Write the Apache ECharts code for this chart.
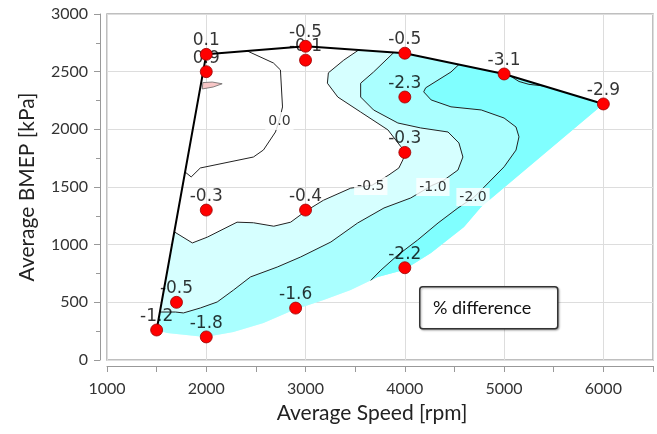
<!DOCTYPE html>
<html>
<head>
<meta charset="utf-8">
<script src="https://cdn.jsdelivr.net/npm/echarts@6/dist/echarts.min.js"></script>
<style>
  html, body { margin: 0; padding: 0; background: #fff; }
  #chart { width: 657px; height: 434px; }
</style>
</head>
<body>
<div id="chart"></div>
<script>
// measured operating points [rpm, kPa] and their % difference
const points = [
  [1500, 260], [1700, 500], [2000, 200], [2000, 1300], [2000, 2500], [2000, 2650],
  [2900, 450], [3000, 1300], [3000, 2600], [3000, 2720], [4000, 800], [4000, 1800],
  [4000, 2280], [4000, 2660], [5000, 2480], [6000, 2220]
];
const pointLabels = [
  '-1.2', '-0.5', '-1.8', '-0.3', '0.9', '0.1',
  '-1.6', '-0.4', '-0.1', '-0.5', '-2.2', '-0.3',
  '-2.3', '-0.5', '-3.1', '-2.9'
];

// full load line + left edge of the map
const boundary = [[1500, 260], [2000, 2650], [3000, 2720], [4000, 2660], [5000, 2480], [6000, 2220]];
// lower edge of the interpolated region
const lowerEdge = [
  [1500, 260], [1606, 234], [1990, 199], [2273, 243], [2576, 321], [2879, 434], [3182, 520],
  [3455, 607], [3727, 720], [3990, 780], [4263, 928], [4596, 1153], [4768, 1327], [6000, 2220]
];

// contour lines
const contour00 = [
  [2414, 2679], [2677, 2575], [2747, 2515], [2768, 2194], [2737, 2081], [2697, 1977],
  [2576, 1821], [2475, 1760], [1940, 1665], [1848, 1587], [1787, 1630]
];
const contour05 = [
  [1680, 1110], [1860, 1015], [2010, 1065], [2310, 1195], [2475, 1190], [2680, 1160],
  [2850, 1195], [3000, 1290], [3180, 1385], [3455, 1490], [3670, 1515], [3840, 1605],
  [3940, 1665], [3980, 1735], [4010, 1805], [3960, 1850], [3830, 1995], [3555, 2150],
  [3325, 2280], [3220, 2400], [3230, 2490], [3385, 2600], [3535, 2688]
];
const contour10 = [
  [1535, 416], [1690, 416], [1770, 408], [1940, 451], [2110, 503], [2275, 607], [2445, 720],
  [2715, 806], [2950, 893], [3255, 1023], [3525, 1188], [3790, 1318], [4060, 1405],
  [4265, 1510], [4395, 1560], [4535, 1647], [4585, 1760], [4545, 1882], [4435, 1977],
  [4160, 2012], [3930, 2055], [3685, 2168], [3555, 2280], [3555, 2400], [3685, 2497], [3890, 2667]
];
const contour20 = [
  [4545, 2562], [4465, 2497], [4210, 2360], [4190, 2325], [4265, 2255], [4465, 2195],
  [4770, 2168], [5000, 2098], [5120, 2020], [5150, 1935], [5120, 1820], [5000, 1675],
  [4840, 1535], [4700, 1413], [4535, 1318], [4335, 1188], [4130, 1041], [3930, 910],
  [3760, 780], [3657, 690]
];
const contour30 = [[5060, 2464], [5150, 2415], [5250, 2390], [5400, 2376]];
const positiveBlob = [[1965, 2405], [2060, 2410], [2160, 2395], [2070, 2367], [1960, 2350]];

const contourLabelPos = [[3657, 1509], [4283, 1500], [4687, 1413], [2737, 2072]];
const contourLabelText = ['-0.5', '-1.0', '-2.0', '0.0'];

// filled bands (region below each level)
const band05 = contour05.concat(boundary.filter(p => p[0] > 3535), lowerEdge.slice().reverse());
const band10 = contour10.concat(boundary.filter(p => p[0] > 3890), lowerEdge.slice().reverse());
const band20 = contour20.concat(lowerEdge.filter(p => p[0] > 3657), boundary.filter(p => p[0] > 4545 && p[0] < 6000));

function polySeries(poly, fill, z, stroke) {
  return {
    type: 'custom', z: z, silent: true, data: [0],
    renderItem: (params, api) => ({
      type: 'polygon',
      shape: { points: poly.map(p => api.coord(p)) },
      style: { fill: fill, stroke: stroke || null, lineWidth: 0.8 }
    })
  };
}
function lineSeries(data, width, z) {
  return {
    type: 'line', data: data, symbol: 'none', z: z, silent: true,
    lineStyle: { color: width > 1.5 ? '#000' : '#222', width: width }
  };
}

const font = 'Lato';
const chart = echarts.init(document.getElementById('chart'));
chart.setOption({
  animation: false,
  grid: { left: 107, right: 4, top: 14, bottom: 74, show: true, borderColor: '#aaa', borderWidth: 1.5 },
  xAxis: {
    type: 'value', min: 1000, max: 6500, interval: 1000, offset: 6,
    axisLine: { show: true, onZero: false, lineStyle: { color: '#999' } },
    axisTick: { show: true, length: 6, lineStyle: { color: '#999' } },
    minorTick: { show: true, splitNumber: 2, length: 6, lineStyle: { color: '#999' } },
    axisLabel: { showMaxLabel: false, fontSize: 16, color: '#333', fontFamily: font, margin: 15, formatter: v => String(v) },
    splitLine: { show: true, lineStyle: { color: '#ddd' } },
    name: 'Average Speed [rpm]', nameLocation: 'middle', nameGap: 37,
    nameTextStyle: { fontSize: 21, fontFamily: font, color: '#222', padding: [0, 16, 0, 0] }
  },
  yAxis: {
    type: 'value', min: 0, max: 3000, interval: 500, offset: 7,
    axisLine: { show: true, onZero: false, lineStyle: { color: '#999' } },
    axisTick: { show: true, length: 6, lineStyle: { color: '#999' } },
    minorTick: { show: true, splitNumber: 2, length: 4, lineStyle: { color: '#999' } },
    axisLabel: { fontSize: 16, color: '#333', fontFamily: font, margin: 12, formatter: v => String(v) },
    splitLine: { show: true, lineStyle: { color: '#ddd' } },
    name: 'Average BMEP [kPa]', nameLocation: 'middle', nameGap: 62, nameRotate: 90,
    nameTextStyle: { fontSize: 21, fontFamily: font, color: '#222' }
  },
  series: [
    polySeries(band05, '#d6ffff', 1),
    polySeries(band10, '#aaffff', 1),
    polySeries(band20, '#80ffff', 1),
    polySeries(positiveBlob, '#f7c6c6', 2, '#666'),
    lineSeries(contour00, 1, 3),
    lineSeries(contour05, 1, 3),
    lineSeries(contour10, 1, 3),
    lineSeries(contour20, 1, 3),
    lineSeries(contour30, 1, 3),
    {
      type: 'scatter', z: 4, symbolSize: 0, silent: true,
      data: contourLabelPos.map((p, i) => ({ value: p, name: contourLabelText[i] })),
      label: {
        show: true, position: 'inside', formatter: '{b}', fontSize: 14,
        fontFamily: 'DejaVu Sans', color: '#000', backgroundColor: '#fff', padding: [2, 3]
      }
    },
    lineSeries(boundary, 2, 5),
    {
      type: 'scatter', z: 6, symbolSize: 0, silent: true,
      data: points.map((p, i) => ({ value: p, name: pointLabels[i] })),
      label: {
        show: true, position: 'top', distance: 5, formatter: '{b}', fontSize: 17,
        fontFamily: 'DejaVu Sans', color: '#000'
      }
    },
    {
      type: 'scatter', z: 7, symbolSize: 12, silent: true, data: points,
      itemStyle: { color: '#ff0000', opacity: 1, borderColor: '#900', borderWidth: 0.8 }
    }
  ],
  graphic: [
    {
      type: 'rect', left: 419, top: 286, z: 10,
      shape: { width: 138, height: 42, r: 3 },
      style: { fill: '#fff', stroke: '#333', lineWidth: 1.5, shadowBlur: 2, shadowOffsetX: 1, shadowOffsetY: 1, shadowColor: 'rgba(0,0,0,0.3)' }
    },
    {
      type: 'text', x: 433, y: 308, z: 11,
      style: { text: '% difference', font: '18px Lato', fill: '#111', verticalAlign: 'middle' }
    }
  ]
});
</script>
</body>
</html>
